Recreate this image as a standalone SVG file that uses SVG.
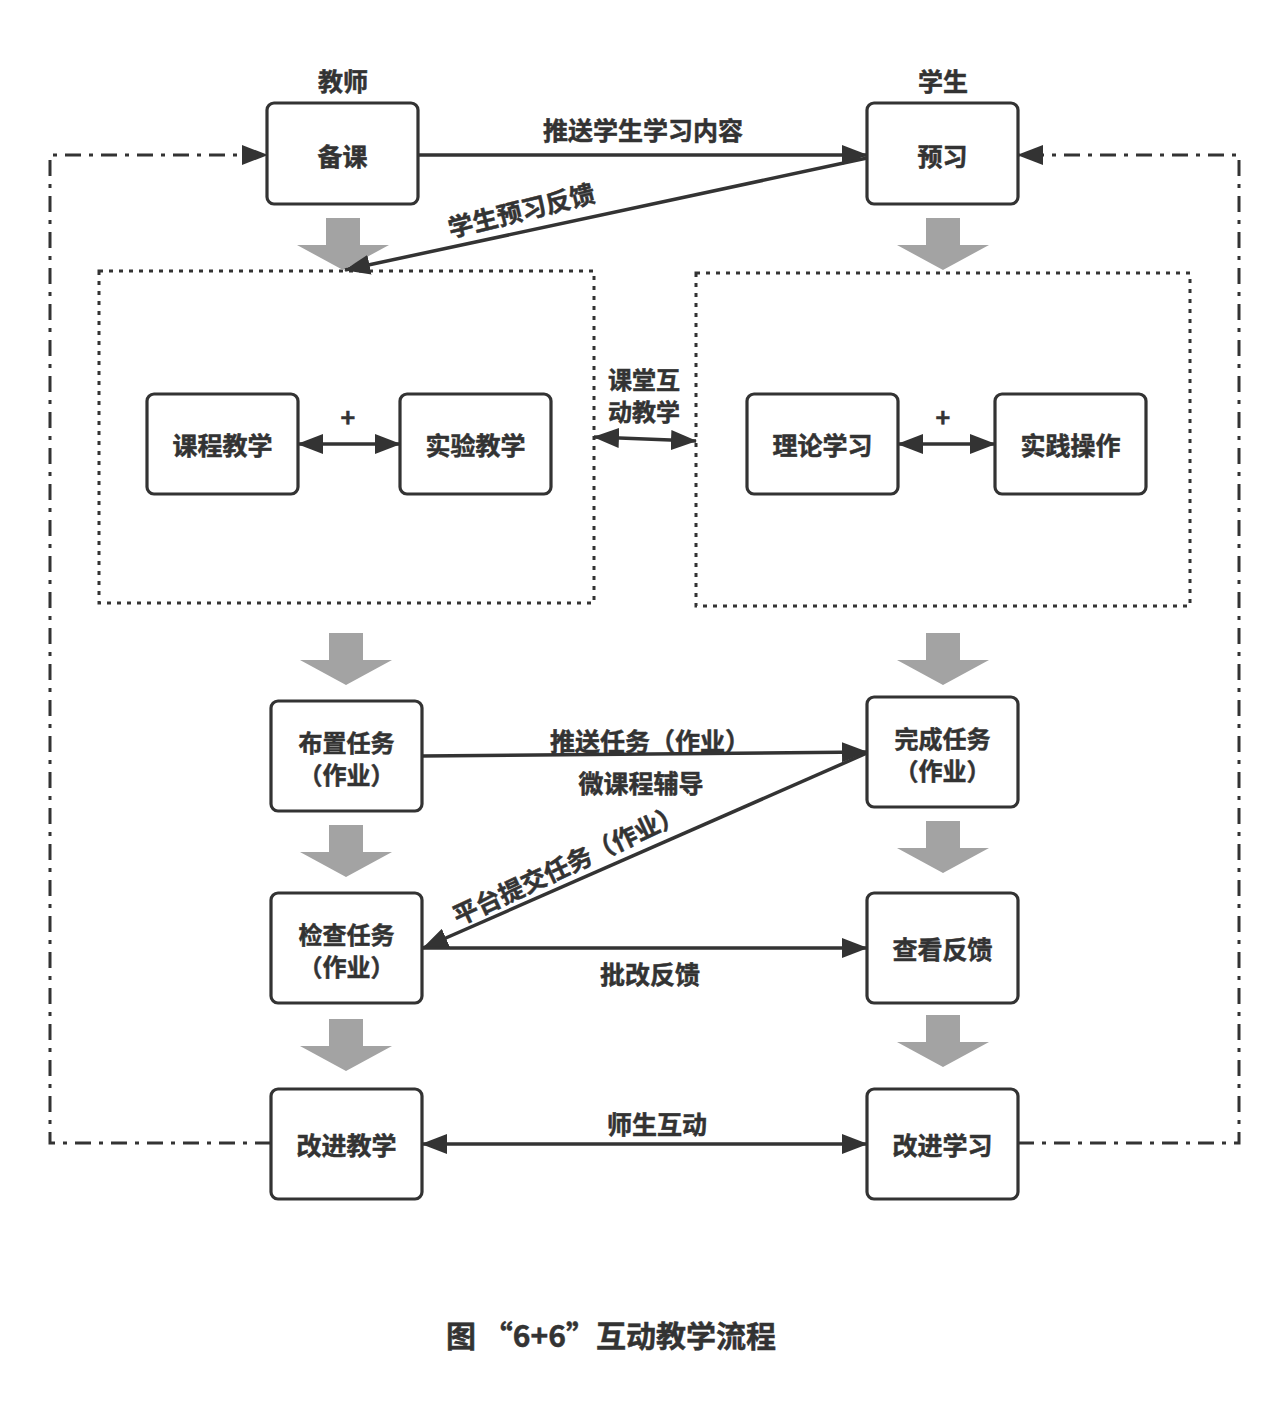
<svg xmlns="http://www.w3.org/2000/svg" width="1287" height="1428" viewBox="0 0 1287 1428">
<defs>
<style>
text{font-family:"Noto Sans CJK SC","Noto Sans",sans-serif;font-weight:bold;fill:#333;stroke:#333;stroke-width:0.5;text-anchor:middle;dominant-baseline:central;font-size:25px}
.two{font-size:24px}
.box{fill:#fff;stroke:#333;stroke-width:3.2}
.ln{fill:none;stroke:#333;stroke-width:3.5}
.dd{fill:none;stroke:#333;stroke-width:3;stroke-dasharray:16 8 4 8}
.dot{fill:none;stroke:#333;stroke-width:3;stroke-dasharray:4 6}
.ga{fill:#a3a3a3}
</style>
<marker id="ah" viewBox="0 0 26 20" refX="25" refY="10" markerWidth="26" markerHeight="20" markerUnits="userSpaceOnUse" orient="auto-start-reverse">
<path d="M0,0 L26,10 L0,20 z" fill="#333"/>
</marker>
<polygon id="garrow" points="-17,0 17,0 17,27 46,27 0,52 -46,27 -17,27"/>
</defs>
<rect width="1287" height="1428" fill="#fff"/>

<g id="regions">
<rect class="dot" x="99" y="271" width="495" height="332"/>
<rect class="dot" x="696" y="273" width="494" height="333"/>
</g>

<g id="flow-arrows" class="ga">
<use href="#garrow" x="343" y="218"/>
<use href="#garrow" x="943" y="218"/>
<use href="#garrow" x="346" y="633"/>
<use href="#garrow" x="943" y="633"/>
<use href="#garrow" x="346" y="825"/>
<use href="#garrow" x="943" y="821"/>
<use href="#garrow" x="346" y="1019"/>
<use href="#garrow" x="943" y="1015"/>
</g>

<g id="connectors">
<path class="dd" d="M271,1143 L50,1143 L50,155 L267,155" marker-end="url(#ah)"/>
<path class="dd" d="M1018,1143 L1239,1143 L1239,155 L1018,155" marker-end="url(#ah)"/>
<line class="ln" x1="418" y1="155" x2="867" y2="155" marker-end="url(#ah)"/>
<line class="ln" x1="867" y1="158" x2="345" y2="270" marker-end="url(#ah)"/>
<line class="ln" x1="298" y1="444" x2="400" y2="444" marker-start="url(#ah)" marker-end="url(#ah)"/>
<line class="ln" x1="898" y1="444" x2="995" y2="444" marker-start="url(#ah)" marker-end="url(#ah)"/>
<line class="ln" x1="594" y1="437" x2="696" y2="441" marker-start="url(#ah)" marker-end="url(#ah)"/>
<line class="ln" x1="422" y1="756" x2="867" y2="752" marker-end="url(#ah)"/>
<line class="ln" x1="867" y1="753" x2="423" y2="948" marker-end="url(#ah)"/>
<line class="ln" x1="422" y1="948" x2="867" y2="948" marker-end="url(#ah)"/>
<line class="ln" x1="422" y1="1144" x2="867" y2="1144" marker-start="url(#ah)" marker-end="url(#ah)"/>
</g>

<g id="labels">
<text x="343" y="80">教师</text>
<text x="943" y="80">学生</text>
<text x="643" y="129">推送学生学习内容</text>
<text x="521" y="209" transform="rotate(-14 521 209)">学生预习反馈</text>
<text x="348" y="416">+</text>
<text x="943" y="416">+</text>
<text class="two" x="644" y="378">课堂互</text>
<text class="two" x="644" y="410">动教学</text>
<text x="650" y="740">推送任务（作业）</text>
<text x="641" y="782">微课程辅导</text>
<text x="567" y="863" transform="rotate(-25 567 863)">平台提交任务（作业）</text>
<text x="650" y="973">批改反馈</text>
<text x="657" y="1123">师生互动</text>
<text x="611" y="1334" style="font-size:30px">图 “6+6”互动教学流程</text>
</g>

<g id="n-beike"><rect class="box" x="267" y="103" width="151" height="101" rx="7"/><text x="342.5" y="155">备课</text></g>
<g id="n-yuxi"><rect class="box" x="867" y="103" width="151" height="101" rx="7"/><text x="942.5" y="155">预习</text></g>
<g id="n-kecheng"><rect class="box" x="147" y="394" width="151" height="100" rx="7"/><text x="222.5" y="444">课程教学</text></g>
<g id="n-shiyan"><rect class="box" x="400" y="394" width="151" height="100" rx="7"/><text x="475.5" y="444">实验教学</text></g>
<g id="n-lilun"><rect class="box" x="747" y="394" width="151" height="100" rx="7"/><text x="822.5" y="444">理论学习</text></g>
<g id="n-shijian"><rect class="box" x="995" y="394" width="151" height="100" rx="7"/><text x="1070.5" y="444">实践操作</text></g>
<g id="n-buzhi"><rect class="box" x="271" y="701" width="151" height="110" rx="7"/><text class="two" x="346.5" y="741">布置任务</text><text class="two" x="346.5" y="773">（作业）</text></g>
<g id="n-wancheng"><rect class="box" x="867" y="697" width="151" height="110" rx="7"/><text class="two" x="942.5" y="737">完成任务</text><text class="two" x="942.5" y="769">（作业）</text></g>
<g id="n-jiancha"><rect class="box" x="271" y="893" width="151" height="110" rx="7"/><text class="two" x="346.5" y="933">检查任务</text><text class="two" x="346.5" y="965">（作业）</text></g>
<g id="n-chakan"><rect class="box" x="867" y="893" width="151" height="110" rx="7"/><text x="942.5" y="948">查看反馈</text></g>
<g id="n-gaijinjiao"><rect class="box" x="271" y="1089" width="151" height="110" rx="7"/><text x="346.5" y="1144">改进教学</text></g>
<g id="n-gaijinxue"><rect class="box" x="867" y="1089" width="151" height="110" rx="7"/><text x="942.5" y="1144">改进学习</text></g>
</svg>
